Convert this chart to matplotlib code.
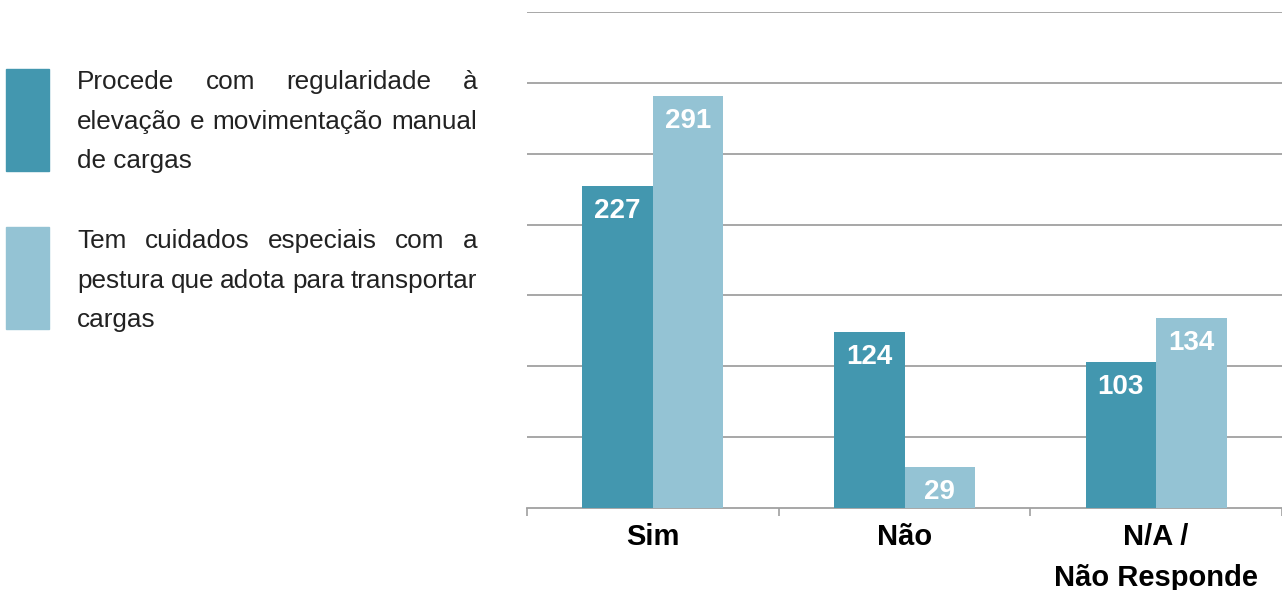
import matplotlib
matplotlib.use('Agg')
import matplotlib.pyplot as plt
import numpy as np

# Data
categories = ['Sim', 'Não', 'N/A /\nNão Responde']
regular_lifting = [227, 124, 103]
posture_care = [291, 29, 134]
series_labels = [
    ['Procede com regularidade à', 'elevação e movimentação manual', 'de cargas'],
    ['Tem cuidados especiais com a', 'pestura que adota para transportar', 'cargas'],
]

DARK = '#4397af'
LIGHT = '#94c3d4'
GRID = '#a0a0a0'

plt.rcParams['font.family'] = ['Liberation Sans', 'DejaVu Sans']

W, H = 1282, 590
fig = plt.figure(figsize=(W / 100, H / 100), dpi=100)
ax = fig.add_axes([527 / W, 1 - 508 / H, (1282 - 527) / W, (508 - 12) / H])

x = np.arange(len(categories))
bw = 0.28
b1 = ax.bar(x - bw / 2, regular_lifting, bw, color=DARK, zorder=3)
b2 = ax.bar(x + bw / 2, posture_care, bw, color=LIGHT, zorder=3)

for bars, vals in ((b1, regular_lifting), (b2, posture_care)):
    for rect, v in zip(bars, vals):
        ax.annotate(str(v), (rect.get_x() + rect.get_width() / 2, v),
                    xytext=(0, -18), textcoords='offset points',
                    ha='center', va='center', color='white',
                    fontsize=20, fontweight='bold', zorder=4)

ax.set_xlim(-0.5, len(categories) - 0.5)
ax.set_ylim(0, 350)
ax.set_yticks(np.arange(50, 351, 50))
ax.yaxis.grid(True, color=GRID, linewidth=1.3, zorder=0)
ax.tick_params(axis='y', length=0, labelleft=False)
for s in ['top', 'right', 'left']:
    ax.spines[s].set_visible(False)
ax.spines['bottom'].set_color(GRID)
ax.spines['bottom'].set_linewidth(1.3)

ax.set_xticks(x)
ax.set_xticklabels(categories, fontsize=21, fontweight='bold',
                   linespacing=1.6, va='top')
ax.tick_params(axis='x', which='major', length=0, pad=11)
ax.set_xticks(np.arange(-0.5, len(categories), 1.0), minor=True)
ax.tick_params(axis='x', which='minor', length=6, color=GRID, width=1.2)

# Legend: swatches and justified text (one text per word)
swatch_colors = [DARK, LIGHT]
swatch_tops = [69, 227]
for col, top in zip(swatch_colors, swatch_tops):
    fig.patches.append(plt.Rectangle((6 / W, 1 - (top + 102) / H), 43 / W, 102 / H,
                                     transform=fig.transFigure, color=col))

renderer = fig.canvas.get_renderer()
x0, x1 = 77, 477
baselines = [[89, 129, 168], [248, 288, 327]]
fs = 18.8
for lines, ys in zip(series_labels, baselines):
    for li, (line, ypx) in enumerate(zip(lines, ys)):
        yy = (H - ypx) / H
        words = line.split(' ')
        if li == len(lines) - 1 or len(words) == 1:
            fig.text(x0 / W, yy, line, fontsize=fs, color='#222222',
                     va='baseline', ha='left')
            continue
        texts = [fig.text(0, yy, w, fontsize=fs, color='#222222',
                          va='baseline', ha='left') for w in words]
        widths = [t.get_window_extent(renderer).width for t in texts]
        gap = (x1 - x0 - sum(widths)) / (len(words) - 1)
        cx = x0
        for t, w in zip(texts, widths):
            t.set_x(cx / W)
            cx += w + gap

fig.savefig('out.png', dpi=100)
